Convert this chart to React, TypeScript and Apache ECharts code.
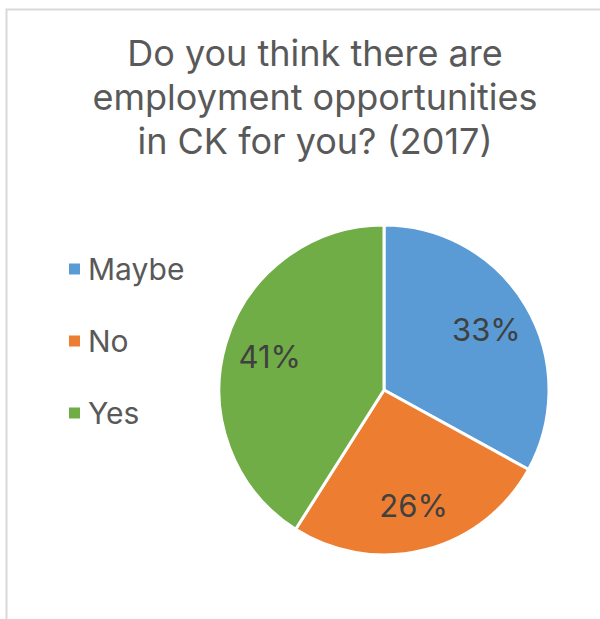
import React, { useEffect, useRef } from "react";
import * as echarts from "echarts";

const titleLines = ["Do you think there are", "employment opportunities", "in CK for you? (2017)"];
const categories = ["Maybe", "No", "Yes"];
const percents = [33, 26, 41];
const colors = ["#5B9BD5", "#ED7D31", "#70AD47"];

const FONT = "Inter, 'Open Sans', sans-serif";

export default function App() {
  const ref = useRef<HTMLDivElement>(null);
  useEffect(() => {
    if (!ref.current) return;
    const chart = echarts.init(ref.current, null, { renderer: "svg" });
    const data = categories.map((name, i) => ({
      name,
      value: percents[i],
      itemStyle: { color: colors[i] },
    }));
    chart.setOption({
      animation: false,
      backgroundColor: "#ffffff",
      graphic: [
        {
          type: "rect",
          shape: { x: 6.5, y: 9.5, width: 700, height: 700 },
          style: { fill: "none", stroke: "#d9d9d9", lineWidth: 2 },
          silent: true,
          z: 0,
        },
        {
          type: "text",
          x: 315,
          y: 31,
          style: {
            text: titleLines.join("\n"),
            fill: "#595959",
            font: `36px ${FONT}`,
            lineHeight: 44,
            textAlign: "center",
            textVerticalAlign: "top",
          },
          silent: true,
        },
      ],
      legend: {
        orient: "vertical",
        left: 62,
        top: 248,
        icon: "rect",
        itemWidth: 13,
        itemHeight: 13,
        itemGap: 40,
        data: categories,
        textStyle: {
          color: "#595959",
          fontSize: 30,
          fontFamily: FONT,
          lineHeight: 32,
          padding: [0, 0, 0, 2],
        },
        selectedMode: false,
      },
      series: [
        {
          type: "pie",
          center: [384, 390],
          radius: [0, 165],
          startAngle: 90,
          clockwise: true,
          data,
          label: { show: false },
          labelLine: { show: false },
          itemStyle: { borderColor: "#ffffff", borderWidth: 3 },
          silent: true,
        },
        {
          type: "pie",
          center: [384, 390],
          radius: [72, 160],
          startAngle: 90,
          clockwise: true,
          data: categories.map((name, i) => ({ name: name + "_l", value: percents[i] })),
          itemStyle: { color: "rgba(0,0,0,0)" },
          label: {
            show: true,
            position: "inside",
            formatter: (p: any) => p.value + "%",
            color: "#404040",
            fontSize: 31,
            fontFamily: FONT,
          },
          labelLine: { show: false },
          silent: true,
          legendHoverLink: false,
        },
      ],
    });
    return () => chart.dispose();
  }, []);
  return (
    <div
      ref={ref}
      style={{ position: "fixed", left: 0, top: 0, width: 600, height: 619 }}
    />
  );
}
